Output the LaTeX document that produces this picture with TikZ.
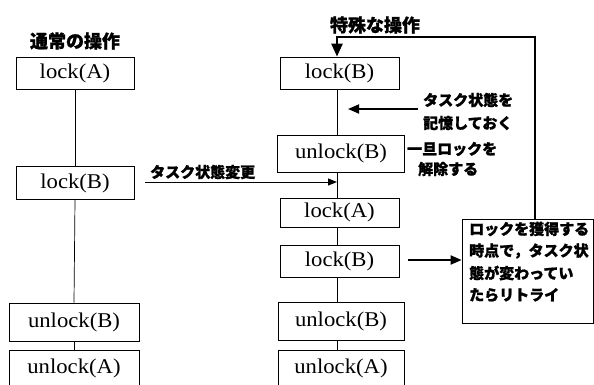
\documentclass[tikz,border=0pt]{standalone}
\usepackage{fontspec}
\setmainfont{Liberation Serif}
\newfontfamily\boxfont[FakeStretch=1.08]{Liberation Serif}
\newfontfamily\jp[BoldFeatures={FakeBold=1.2}]{Noto Sans CJK JP}
\usetikzlibrary{arrows.meta}
\begin{document}
\begin{tikzpicture}[x=1pt,y=-1pt,
  opbox/.style={draw,line width=0.8pt,inner sep=0pt,font=\boxfont\fontsize{21}{21}\selectfont},
  title/.style={font=\jp\bfseries\fontsize{18}{18}\selectfont,inner sep=0pt},
  note/.style={font=\jp\bfseries\fontsize{15}{15}\selectfont,inner sep=0pt,anchor=west},
  conn/.style={line width=0.7pt}]
\useasboundingbox (0,0) rectangle (594,384);
% titles
\node[title] (t1) at (75,41) {通常の操作};
\node[title] (t2) at (375,25) {特殊な操作};
% left column
\node[opbox,minimum width=118,minimum height=32] (lA) at (75,73) {lock(A)};
\node[opbox,minimum width=118,minimum height=33] (lB) at (75,183) {lock(B)};
\node[opbox,minimum width=130,minimum height=38] (luB) at (74,322) {unlock(B)};
\node[opbox,minimum width=130,minimum height=36] (luA) at (74,368) {unlock(A)};
\draw[conn] (lA.south) -- (lB.north);
\draw[conn] (lB.south) -- (luB.north);
\draw[conn] (luB.south) -- (luA.north);
% right column
\node[opbox,minimum width=119,minimum height=32] (rB1) at (339.5,73) {lock(B)};
\node[opbox,minimum width=127,minimum height=37] (ruB1) at (341,153.5) {unlock(B)};
\node[opbox,minimum width=119,minimum height=29] (rA) at (339.5,212.5) {lock(A)};
\node[opbox,minimum width=119,minimum height=32] (rB2) at (339.5,261) {lock(B)};
\node[opbox,minimum width=126,minimum height=38] (ruB2) at (341,321) {unlock(B)};
\node[opbox,minimum width=126,minimum height=36] (ruA) at (341,368) {unlock(A)};
\coordinate (rx) at (337,0);
\draw[conn] (rB1.south -| rx) -- (ruB1.north -| rx);
\draw[conn] (ruB1.south -| rx) -- (rA.north -| rx);
\draw[conn] (rA.south -| rx) -- (rB2.north -| rx);
\draw[conn] (rB2.south -| rx) -- (ruB2.north -| rx);
\draw[conn] (ruB2.south -| rx) -- (ruA.north -| rx);
% retry box
\node[draw,line width=0.8pt,minimum width=131,minimum height=104,inner sep=0pt] (retry) at (527.5,271) {};
\node[note] (r1) at (469,229) {ロックを獲得する};
\node[note] (r2) at (469,251) {時点で，タスク状};
\node[note] (r3) at (469,273) {態が変わってい};
\node[note] (r4) at (469,295) {たらリトライ};
% notes
\node[note] (n1) at (423,100) {タスク状態を};
\node[note] (n2) at (423,123) {記憶しておく};
\node[note] (n3) at (407,149) {一旦ロックを};
\node[note] (n4) at (418,169) {解除する};
\node[note] (n5) at (150,172) {タスク状態変更};
% arrows
\coordinate (memA) at (418,109);
\coordinate (memB) at (348,109);
\draw[line width=1.8pt,-{Triangle[length=11pt,width=9pt]}] (memA) -- (memB);
\coordinate (chgA) at (145,182);
\draw[line width=1pt,-{Triangle[length=9pt,width=7pt]}] (chgA) -- (chgA -| rx);
\coordinate (lbA) at (408,260);
\draw[line width=2pt,-{Triangle[length=11pt,width=9pt]}] (lbA) -- (lbA -| retry.west);
\coordinate (loopR) at (535,37);
\draw[line width=2.6pt,-{Triangle[length=13pt,width=11pt]}] (retry.north -| loopR) -- (loopR) -- (loopR -| rx) -- (rB1.north -| rx);
\end{tikzpicture}
\end{document}
